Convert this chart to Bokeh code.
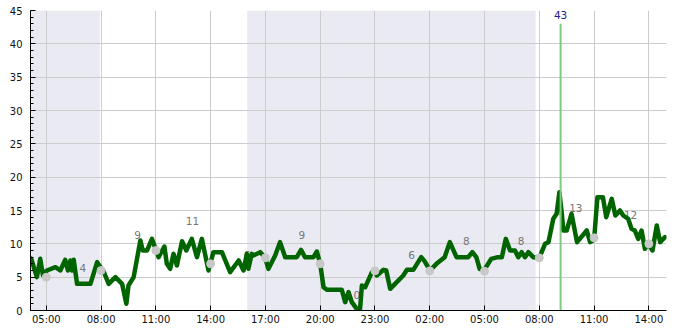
import pandas as pd
from bokeh.plotting import figure
from bokeh.models import (ColumnDataSource, BoxAnnotation, FixedTicker,
                          SingleIntervalTicker, DatetimeTickFormatter, Range1d)
from bokeh.embed import file_html
from bokeh.resources import INLINE
from bokeh.core.properties import value

START_DAY = "2024-01-10"

# wind speed series (HH:MM, rolls over to next day automatically)
wind_times = ["04:10", "04:29", "04:40", "04:49", "05:02", "05:30", "05:46", "06:02", "06:11", "06:19",
              "06:24", "06:30", "06:41", "07:25", "07:47", "07:58", "08:07", "08:25", "08:47", "09:09",
              "09:23", "09:30", "09:47", "10:09", "10:17", "10:31", "10:47", "11:01", "11:09", "11:28",
              "11:36", "11:47", "11:58", "12:09", "12:26", "12:40", "12:58", "13:15", "13:31", "13:53",
              "14:09", "14:37", "15:04", "15:32", "15:48", "15:59", "16:04", "16:15", "16:20", "16:43",
              "16:59", "17:10", "17:32", "17:48", "18:05", "18:43", "18:57", "19:10", "19:38", "19:49",
              "20:00", "20:11", "20:22", "21:11", "21:22", "21:33", "21:44", "22:00", "22:11", "22:17",
              "22:28", "22:50", "23:00", "23:06", "23:28", "23:37", "23:50", "00:06", "00:33", "00:45",
              "01:06", "01:32", "01:43", "02:01", "02:22", "02:49", "03:06", "03:28", "04:06", "04:20",
              "04:33", "04:44", "04:58", "05:22", "05:44", "05:57", "06:10", "06:24", "06:40", "06:51",
              "07:02", "07:13", "07:24", "07:40", "08:00", "08:19", "08:30", "08:46", "08:57", "09:06",
              "09:14", "09:19", "09:30", "09:46", "10:04", "10:36", "10:47", "11:00", "11:11", "11:29",
              "11:40", "11:58", "12:10", "12:25", "12:36", "12:52", "13:03", "13:14", "13:25", "13:36",
              "13:47", "13:58", "14:12", "14:26", "14:37", "14:53"]
wind_speed = [7.8, 5.0, 7.75, 5.25, 6.0, 6.5, 6.0, 7.6, 6.0, 7.5,
              6.0, 7.6, 4.0, 4.0, 7.25, 6.5, 6.0, 4.0, 5.0, 4.0,
              1.0, 3.75, 5.0, 10.5, 9.0, 9.0, 10.75, 9.0, 8.0, 9.6,
              7.0, 6.25, 8.5, 6.75, 10.4, 9.0, 10.75, 8.0, 10.75, 6.0,
              8.75, 8.75, 5.75, 7.5, 6.0, 8.5, 6.25, 8.5, 8.25, 8.75,
              7.9, 6.25, 8.25, 10.25, 8.0, 8.0, 9.1, 8.0, 8.0, 8.85,
              7.0, 3.5, 3.1, 3.1, 1.25, 2.75, 1.25, 0.25, 0.25, 3.75,
              3.5, 5.75, 6.0, 5.25, 6.1, 6.0, 3.25, 4.0, 5.25, 6.1,
              6.1, 8.0, 7.4, 6.0, 7.0, 8.0, 10.25, 8.0, 8.0, 8.75,
              8.0, 6.25, 6.0, 7.75, 8.0, 8.0, 10.75, 9.0, 9.0, 8.0,
              8.75, 8.0, 8.75, 8.0, 7.9, 10.0, 10.25, 13.75, 14.5, 17.75,
              14.5, 12.0, 12.0, 14.5, 10.25, 12.0, 10.25, 10.6, 17.0, 17.0,
              14.0, 16.75, 14.25, 15.0, 14.25, 13.75, 12.25, 12.0, 10.75, 12.0,
              9.25, 10.0, 9.0, 12.75, 10.25, 11.0]

# three-hourly markers
avg_times = ["05:00", "08:00", "11:00", "14:00", "17:00", "20:00", "23:00",
             "02:00", "05:00", "08:00", "11:00", "14:00"]
avg_speed = [5.0, 6.0, 9.0, 7.0, 7.9, 7.0, 5.95, 5.95, 5.9, 7.9, 10.9, 10.0]

# numeric labels
label_times = ["07:00", "10:00", "13:00", "16:00", "19:00", "22:00",
               "01:00", "04:00", "07:00", "10:00", "13:00"]
label_values = [4, 9, 11, 6, 9, 0, 6, 8, 8, 13, 12]

# maximum gust
gust_time = ["2024-01-11 09:10"]
gust_max = [43]

# night periods
night_start = ["2024-01-10 00:00", "2024-01-10 16:00"]
night_end = ["2024-01-10 07:56", "2024-01-11 07:48"]

x_start = "2024-01-10 04:08"
x_end = "2024-01-11 14:58"
tick_times = ["05:00", "08:00", "11:00", "14:00", "17:00", "20:00", "23:00",
              "02:00", "05:00", "08:00", "11:00", "14:00"]


def to_dt(times, day0=START_DAY):
    out, day, prev = [], 0, None
    for t in times:
        h, m = map(int, t.split(":"))
        mins = h * 60 + m
        if prev is not None and mins < prev:
            day += 1
        prev = mins
        out.append(pd.Timestamp(day0) + pd.Timedelta(days=day, minutes=mins))
    return out


def ms(ts):
    return ts.value / 1e6


p = figure(width=685, height=330, x_axis_type="datetime", output_backend="svg",
           toolbar_location=None, min_border_left=30, min_border_right=19,
           min_border_top=10, min_border_bottom=20,
           x_range=Range1d(pd.Timestamp(x_start), pd.Timestamp(x_end)),
           y_range=Range1d(0, 45))
p.outline_line_color = None
p.background_fill_color = "white"

# night shading
for s, e in zip(night_start, night_end):
    p.add_layout(BoxAnnotation(left=pd.Timestamp(s), right=pd.Timestamp(e),
                               fill_color="#eaeaf2", fill_alpha=1.0,
                               line_color=None, level="image"))

# axes
ticks = [ms(t) for t in to_dt(tick_times)]
p.xaxis.ticker = FixedTicker(ticks=ticks)
fmt = "%H:%M"
p.xaxis.formatter = DatetimeTickFormatter(hours=fmt, hourmin=fmt, minutes=fmt, minsec=fmt,
                                          days=fmt, months=fmt, years=fmt)
p.yaxis.ticker = SingleIntervalTicker(interval=5, num_minor_ticks=5)

for ax in (p.xaxis[0], p.yaxis[0]):
    ax.axis_line_color = "black"
    ax.major_tick_line_color = "black"
    ax.major_tick_in = 5
    ax.major_tick_out = 0
    ax.minor_tick_in = 3
    ax.minor_tick_out = 0
    ax.major_label_text_font = "DejaVu Sans"
    ax.major_label_text_font_size = "10px"
    ax.major_label_text_color = "#111111"
p.xaxis.minor_tick_line_color = None
p.yaxis.minor_tick_line_color = "black"
p.yaxis.major_label_standoff = 8
p.xaxis.major_label_standoff = 3

p.xgrid.grid_line_color = "#cccccc"
p.ygrid.grid_line_color = "#cccccc"
p.xgrid.grid_line_width = 1
p.ygrid.grid_line_width = 1

# labels (drawn first so the line covers them)
lab_src = ColumnDataSource(dict(x=to_dt(label_times), y=label_values,
                                t=[str(v) for v in label_values]))
p.text(x="x", y="y", text="t", source=lab_src, text_align="center",
       text_baseline="middle", y_offset=-16, text_color="#777777",
       text_font=value("DejaVu Sans"), text_font_size="10.5px")

# wind line
wsrc = ColumnDataSource(dict(x=to_dt(wind_times), y=wind_speed))
p.line(x="x", y="y", source=wsrc, line_color="#006400", line_width=4.5,
       line_join="round", line_cap="round")

# markers
asrc = ColumnDataSource(dict(x=to_dt(avg_times), y=avg_speed))
p.scatter(x="x", y="y", source=asrc, size=8, fill_color="#c8c8c8",
          line_color="#c8c8c8")

# gust line
gx = [pd.Timestamp(t) for t in gust_time]
gsrc = ColumnDataSource(dict(x=gx, y0=[0] * len(gx), y1=gust_max,
                             t=[str(v) for v in gust_max]))
p.segment(x0="x", y0="y0", x1="x", y1="y1", source=gsrc,
          line_color="#7fcc7f", line_width=2)
p.text(x="x", y="y1", text="t", source=gsrc, text_align="center",
       text_baseline="bottom", y_offset=-5, text_color="#20209a",
       text_font=value("DejaVu Sans"), text_font_size="10.5px")

open("out.html", "w").write(file_html(p, INLINE))
